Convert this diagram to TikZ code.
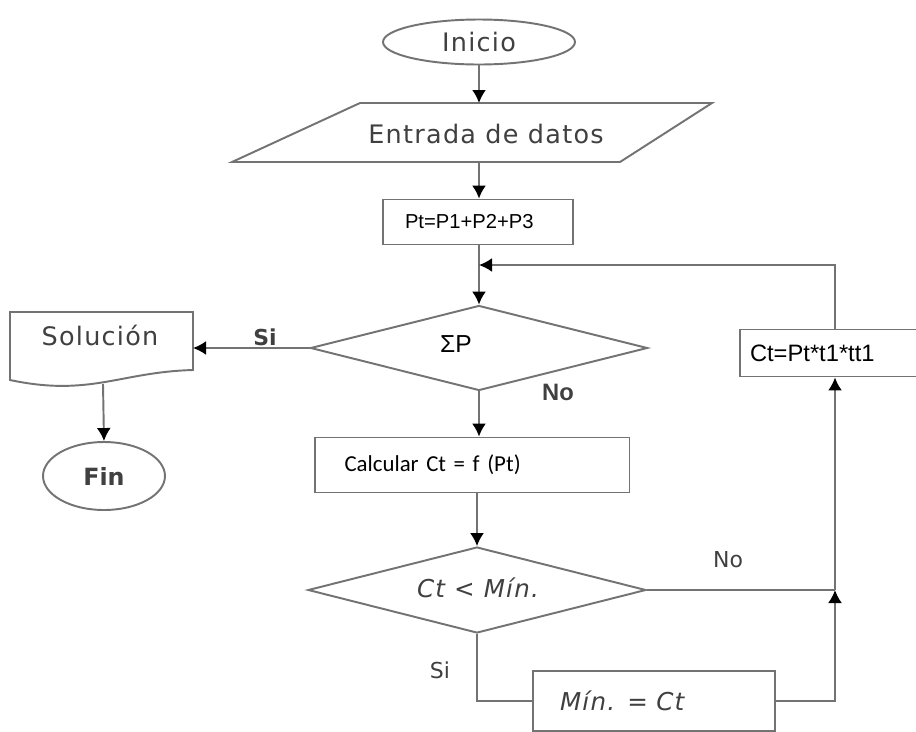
\documentclass[tikz,border=0pt]{standalone}
\usepackage{fontspec}
\setmainfont{DejaVu Sans}
\newfontfamily\verd[LetterSpace=5]{DejaVu Sans}
\newfontfamily\arialf{Liberation Sans}
\newfontfamily\calib{Carlito}
\usetikzlibrary{shapes.geometric,arrows.meta}
\tikzset{>={Latex[length=2.6mm,width=2.8mm,color=black]}}
\tikzset{
  line/.style={draw=black!55,line width=1.1pt},
  arr/.style={line,->},
  term/.style={ellipse,draw=black!55,line width=1.1pt,inner sep=0pt,text=black!75},
  proc/.style={rectangle,draw=black!55,line width=1.1pt,inner ysep=0pt,align=left},
  cond/.style={diamond,draw=black!55,line width=1.1pt,inner sep=0pt},
  lbl/.style={text=black!75}
}

\begin{document}
\begin{tikzpicture}[x=0.02cm,y=-0.02cm]
\clip (0,0) rectangle (916,731);
\fill[white] (0,0) rectangle (916,731);
% inicio / entrada
\node[term,minimum width=3.84cm,minimum height=0.9cm,font=\verd\fontsize{14.5}{16}\selectfont] (inicio) at (479,42) {Inicio};
\draw[line] (232,162) -- (360,103) -- (712,103) -- (620,162) -- cycle;
\node[lbl,font=\verd\fontsize{14.5}{16}\selectfont] (datos) at (486,134) {Entrada de datos};
\coordinate (datos-n) at (479,103);
\coordinate (datos-s) at (479,162);
\node[proc,text width=2.92cm,inner xsep=0.44cm,minimum height=0.9cm,font=\arialf\fontsize{11.5}{13}\selectfont] (pt) at (478,222) {Pt=P1+P2+P3};
% primera decision
\node[cond,minimum width=6.74cm,minimum height=1.7cm] (d1) at (479,348) {};
\node[font=\arialf\fontsize{14}{16}\selectfont] (sumP) at (456,344) {ΣP};
\draw[line] (10,312) -- (193,312) -- (193,370) .. controls (120,372) and (90,397) .. (10,380) -- cycle;
\node[lbl,font=\verd\fontsize{14.5}{16}\selectfont] (sol) at (100,335) {Solución};
\coordinate (sol-e) at (193,348);
\coordinate (sol-s) at (103,384);
\node[term,minimum width=2.44cm,minimum height=1.36cm,font=\fontsize{13.5}{15}\bfseries\selectfont] (fin) at (104,476) {Fin};
\node[proc,text width=5.1cm,inner xsep=0.6cm,minimum height=1.1cm,font=\calib\fontsize{13}{15}\selectfont] (calc) at (472,465) {Calcular Ct = f (Pt)};
% segunda decision
\node[cond,minimum width=6.76cm,minimum height=1.72cm] (d2) at (477,590) {};
\node[lbl,font=\verd\itshape\fontsize{14}{16}\selectfont] (cmin) at (478,588) {Ct < Mín.};
\node[proc,text width=3.76cm,inner xsep=0.54cm,minimum height=1.2cm,font=\verd\itshape\fontsize{14}{16}\selectfont,text=black!75] (min) at (654,701) {Mín. = Ct};
\node[proc,text width=3.4cm,inner xsep=0.2cm,minimum height=0.94cm,font=\arialf\fontsize{13.5}{15}\selectfont] (ct) at (835,353) {Ct=Pt*t1*tt1};
\coordinate (join1) at (479,265);
\coordinate (join2) at (835,590);
% etiquetas
\node[lbl,font=\fontsize{12.5}{14}\bfseries\selectfont] (si1) at (265,337) {Si};
\node[lbl,font=\arialf\fontsize{13.5}{15}\bfseries\selectfont] (no1) at (558,392) {No};
\node[lbl,font=\fontsize{12.5}{14}\selectfont] (no2) at (728,560) {No};
\node[lbl,font=\fontsize{12.5}{14}\selectfont] (si2) at (440,670) {Si};
% conectores
\draw[arr] (inicio) -- (datos-n);
\draw[arr] (datos-s) -- (pt.north -| datos-s);
\draw[arr] (pt.south -| datos-s) -- (d1.north);
\draw[arr] (d1.west) -- (sol-e);
\draw[arr] (sol-s) -- (fin.north);
\draw[arr] (d1.south) -- (calc.north -| d1.south);
\draw[arr] (calc.south -| d2.north) -- (d2.north);
\draw[line] (d2.east) -- (join2);
\draw[line] (d2.south) |- (min.west);
\draw[arr] (min.east) -| (join2);
\draw[arr] (join2) -- (ct.south);
\draw[arr] (ct.north) |- (join1);
\end{tikzpicture}
\end{document}
